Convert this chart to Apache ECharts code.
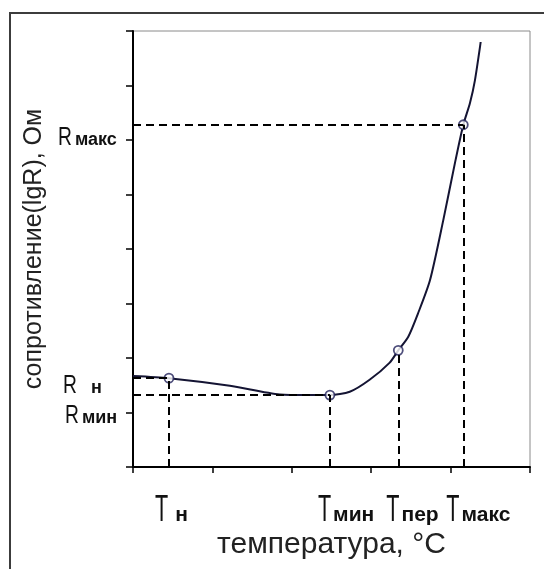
<!DOCTYPE html>
<html>
<head>
<meta charset="utf-8">
<script src="https://cdn.jsdelivr.net/npm/echarts@6/dist/echarts.min.js"></script>
<style>
  html, body { margin: 0; padding: 0; background: #fff; }
  #chart { width: 544px; height: 569px; }
</style>
</head>
<body>
<div id="chart"></div>
<script>
// кривая lgR(T), значения (оси 0..5 и 0..8 в условных единицах)
const curveT = [0, 0.453, 1.22, 1.85, 2.2, 2.48, 2.73, 2.98, 3.23, 3.341, 3.467, 3.593, 3.741, 3.908, 4.055, 4.16, 4.244, 4.307, 4.379];
const curveR = [1.67, 1.63, 1.49, 1.33, 1.32, 1.32, 1.38, 1.6, 1.91, 2.14, 2.39, 2.83, 3.43, 4.53, 5.58, 6.28, 6.68, 7.1, 7.8];

// характерные точки
const tNames = ['н', 'мин', 'пер', 'макс'];
const tValues = [0.453, 2.48, 3.341, 4.16];
const tResist = [1.63, 1.32, 2.14, 6.28];

// уровни сопротивления
const rNames = ['н', 'мин', 'макс'];
const rValues = [1.63, 1.32, 6.28];

const xTicks = [0, 5, 1];   // min, max, interval
const yTicks = [0, 8, 1];

const main = "'Liberation Sans', Arial, sans-serif";
const ink = '#111';

const myChart = echarts.init(document.getElementById('chart'));

// пунктиры: вертикали от точек к оси T, горизонтали от оси R к точкам
const dashLines = [];
tValues.forEach((t, i) => {
  dashLines.push([{ coord: [t, 0] }, { coord: [t, tResist[i]] }]);
});
rValues.forEach((r, i) => {
  const k = tNames.indexOf(rNames[i]);
  dashLines.push([{ coord: [0, r] }, { coord: [tValues[k], r] }]);
});

// сдвиги подписей в пикселях
const tShift = [[-14, 62], [-12, 62], [-12, 62], [-17, 62]];
const rShift = [[-70, 21], [-68, 34], [-75, 26]];

// буква (сжатая по ширине, как на картинке) + нижний индекс
function subLabel(x, y, letter, size, squeeze, sub, subSize, gap) {
  const w = size * (letter === 'T' ? 0.611 : 0.722) * squeeze;
  return {
    type: 'group',
    x: x,
    y: y,
    children: [
      {
        type: 'text',
        x: 0, y: 0,
        scaleX: squeeze,
        style: { text: letter, fontFamily: main, fontSize: size, fill: ink, align: 'left', verticalAlign: 'bottom' }
      },
      {
        type: 'text',
        x: w + gap, y: -0.21 * (size - subSize),
        style: { text: sub, fontFamily: main, fontSize: subSize, fontWeight: 'bold', fill: ink, align: 'left', verticalAlign: 'bottom' }
      }
    ]
  };
}

const option = {
  animation: false,
  backgroundColor: '#fff',
  textStyle: { fontFamily: main },
  grid: {
    left: 133, right: 14, top: 31, bottom: 102,
    show: true, borderColor: '#8a8a8a', borderWidth: 1
  },
  graphic: [
    {
      type: 'rect',
      shape: { x: 10, y: 13, width: 640, height: 640 },
      style: { fill: 'none', stroke: '#3c3c3c', lineWidth: 2 },
      silent: true
    }
  ],
  xAxis: {
    type: 'value',
    min: xTicks[0], max: xTicks[1], interval: xTicks[2],
    name: 'температура, °C',
    nameLocation: 'middle',
    nameGap: 63,
    nameTextStyle: { fontFamily: main, fontSize: 30, color: '#222' },
    axisLine: { lineStyle: { color: '#000', width: 2 } },
    axisTick: { show: true, inside: false, length: 6, lineStyle: { color: '#000', width: 1.5 } },
    axisLabel: { show: false },
    splitLine: { show: false }
  },
  yAxis: {
    type: 'value',
    min: yTicks[0], max: yTicks[1], interval: yTicks[2],
    name: 'сопротивление(lgR), Ом',
    nameLocation: 'middle',
    nameGap: 86,
    nameTextStyle: { fontFamily: main, fontSize: 25, color: '#222' },
    axisLine: { lineStyle: { color: '#000', width: 2 } },
    axisTick: { show: true, inside: false, length: 7, lineStyle: { color: '#000', width: 1.5 } },
    axisLabel: { show: false },
    splitLine: { show: false }
  },
  series: [
    {
      type: 'line',
      data: curveT.map((t, i) => [t, curveR[i]]),
      smooth: 0.25,
      showSymbol: false,
      lineStyle: { color: '#141433', width: 2 },
      silent: true,
      markLine: {
        silent: true,
        symbol: ['none', 'none'],
        label: { show: false },
        lineStyle: { color: '#000', width: 2, type: [8, 5] },
        data: dashLines
      },
      z: 3
    },
    {
      type: 'scatter',
      data: tValues.map((t, i) => [t, tResist[i]]),
      symbol: 'circle',
      symbolSize: 9,
      itemStyle: { color: '#fff', borderColor: '#22225a', borderWidth: 1.8 },
      silent: true,
      z: 4
    },
    {
      // подписи T под осью
      type: 'custom',
      clip: false,
      silent: true,
      data: tValues.map((t, i) => [t, 0, i]),
      renderItem: function (params, api) {
        const i = api.value(2);
        const p = api.coord([api.value(0), api.value(1)]);
        return subLabel(p[0] + tShift[i][0], p[1] + tShift[i][1], 'T', 36, 0.6,
          tNames[i], 21, i === 0 ? 7 : 2);
      }
    },
    {
      // подписи R слева от оси
      type: 'custom',
      clip: false,
      silent: true,
      data: rValues.map((r, i) => [0, r, i]),
      renderItem: function (params, api) {
        const i = api.value(2);
        const p = api.coord([api.value(0), api.value(1)]);
        return subLabel(p[0] + rShift[i][0], p[1] + rShift[i][1], 'R', 26, 0.74,
          rNames[i], 18, i === 0 ? 14 : 3);
      }
    }
  ]
};

myChart.setOption(option);
</script>
</body>
</html>
